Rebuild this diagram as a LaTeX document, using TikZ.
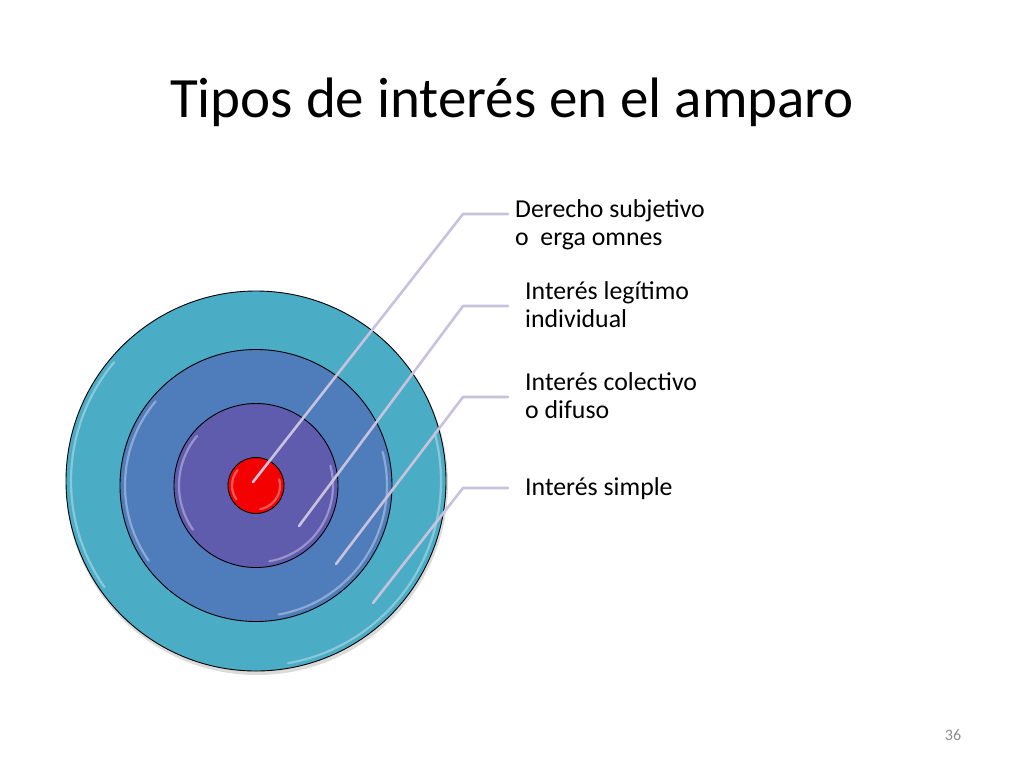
\documentclass[tikz,border=0pt]{standalone}
\usepackage{fontspec}
\setmainfont{Carlito}
\usetikzlibrary{calc}
\definecolor{ringA}{HTML}{4BACC6}
\definecolor{ringB}{HTML}{4F7DBB}
\definecolor{ringC}{HTML}{5F5BAD}
\definecolor{core}{HTML}{F40000}
\definecolor{lead}{HTML}{C9C2DC}
\definecolor{pgnum}{HTML}{8C8C8C}
\tikzset{
  disc/.style={circle, draw=black, line width=0.9pt, inner sep=0pt},
  gloss/.style={draw=white, opacity=0.35, line width=2.2pt, line cap=round},
  leader/.style={draw=lead, line width=2.6pt, line cap=round, line join=round},
  lab/.style={text=black, font=\fontsize{25.8}{28}\selectfont, align=left, inner sep=0pt, anchor=base west},
  ttl/.style={text=black, font=\fontsize{57}{66}\selectfont, inner sep=0pt, anchor=base},
  pg/.style={text=pgnum, font=\fontsize{16}{18}\selectfont, inner sep=0pt, anchor=base},
}
\begin{document}
\begin{tikzpicture}[x=1pt,y=-1pt]
  \fill[white] (0,0) rectangle (1024,768);
  \useasboundingbox (0,0) rectangle (1024,768);
  \node[ttl] (title) at (512,117) {Tipos de interés en el amparo};
  % target
  \coordinate (c0) at (256,481);
  \coordinate (c1) at (256,485.5);
  \fill[black!14] ($(c0)+(1,3)$) circle[radius=191];
  \node[disc, fill=ringA, minimum size=380pt] (outer) at (c0) {};
  \node[disc, fill=ringB, minimum size=272pt] (mid) at (c1) {};
  \node[disc, fill=ringC, minimum size=164pt] (inner) at (c1) {};
  \node[disc, fill=core, minimum size=56pt] (bull) at (c1) {};
  \foreach \c/\r in {c0/185, c1/131, c1/77, c1/24}{
    \draw[gloss] ($(\c)+(-140:\r)$) arc[start angle=-140, end angle=-215, radius=\r];
    \draw[gloss] ($(\c)+(80:\r)$) arc[start angle=80, end angle=-15, radius=\r];
  }
  % leaders
  \coordinate (e1) at (253,482);
  \coordinate (e2) at (299,526);
  \coordinate (e3) at (336,564);
  \coordinate (e4) at (373,603);
  \foreach \i/\y in {1/214, 2/306, 3/397, 4/488}{
    \coordinate (b\i) at (463,\y);
    \coordinate (h\i) at (508,\y);
    \draw[leader] (e\i) -- (b\i) -- (h\i);
  }
  % labels (base = last line)
  \node[lab] (t1) at (515,245) {Derecho subjetivo\\o\ \ erga omnes};
  \node[lab] (t2) at (525,327) {Interés legítimo\\individual};
  \node[lab] (t3) at (525,418) {Interés colectivo\\o difuso};
  \node[lab] (t4) at (525,495) {Interés simple};
  \node[pg] (pgno) at (953,740) {36};
\end{tikzpicture}
\end{document}
